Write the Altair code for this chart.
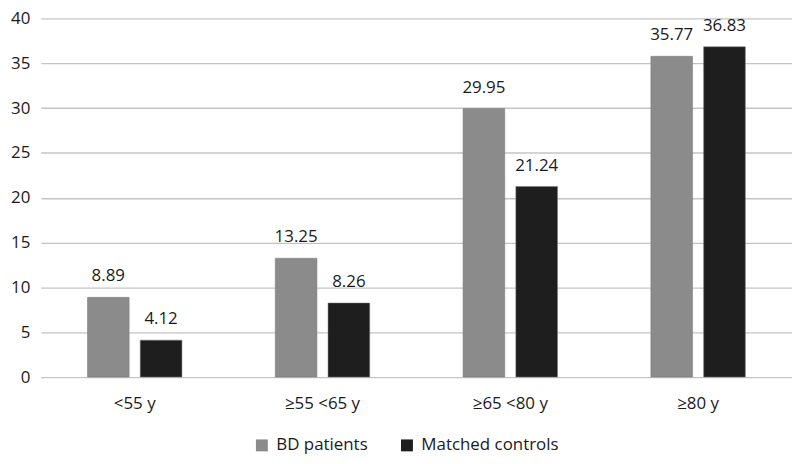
import altair as alt
import pandas as pd

categories = ["<55 y", "≥55 <65 y", "≥65 <80 y", "≥80 y"]
series = ["BD patients", "Matched controls"]
bd_values = [8.89, 13.25, 29.95, 35.77]
ctrl_values = [4.12, 8.26, 21.24, 36.83]
y_ticks = [0, 5, 10, 15, 20, 25, 30, 35, 40]
colors = ["#8b8b8b", "#1e1e1e"]

rows = []
for c, v in zip(categories, bd_values):
    rows.append({"cat": c, "series": series[0], "value": v, "label": f"{v:.2f}"})
for c, v in zip(categories, ctrl_values):
    rows.append({"cat": c, "series": series[1], "value": v, "label": f"{v:.2f}"})
df = pd.DataFrame(rows)

FONT = "Open Sans"
FS = 17

x_scale = alt.Scale(paddingInner=0.497, paddingOuter=0.2485)
y_scale = alt.Scale(domain=[0, 40], nice=False)

x_enc = alt.X(
    "cat:N",
    sort=categories,
    title=None,
    scale=x_scale,
    axis=alt.Axis(domain=False, ticks=False, labelPadding=19, labelFontSize=FS,
                  labelColor="#1a1a1a", labelFont=FONT, labelAngle=0),
)
xoff = alt.XOffset("series:N", sort=series, scale=alt.Scale(paddingInner=0.21, paddingOuter=0))
y_enc = alt.Y(
    "value:Q",
    title=None,
    scale=y_scale,
    axis=alt.Axis(values=y_ticks, domain=False, ticks=False, labelPadding=11,
                  labelFontSize=FS, labelColor="#1a1a1a", labelFont=FONT,
                  gridColor="#c4c4c4", gridWidth=1.4),
)

bars = alt.Chart(df).mark_bar(strokeWidth=1, stroke="#777777", strokeOpacity=0.5).encode(
    x=x_enc,
    xOffset=xoff,
    y=y_enc,
    color=alt.Color(
        "series:N",
        sort=series,
        scale=alt.Scale(domain=series, range=colors),
        legend=alt.Legend(
            title=None, orient="none", legendX=214, legendY=421, direction="horizontal",
            padding=0, symbolType="square", symbolSize=144, symbolStrokeWidth=0,
            labelFontSize=FS, labelFont=FONT, labelColor="#1a1a1a",
            labelOffset=6, columnPadding=30,
        ),
    ),
)

labels = alt.Chart(df).mark_text(
    baseline="bottom", dy=-12, fontSize=FS, font=FONT, color="#1a1a1a"
).encode(
    x=alt.X("cat:N", sort=categories, scale=x_scale),
    xOffset=xoff,
    y=alt.Y("value:Q", scale=y_scale),
    text="label:N",
)

chart = (
    alt.layer(bars, labels)
    .properties(
        width=756,
        height=361,
        autosize=alt.AutoSizeParams(type="none"),
        padding={"left": 33, "top": 9, "right": 0, "bottom": 78},
        background="white",
    )
    .configure_view(stroke=None)
)

chart.save("out.html", embed_options={"renderer": "svg", "actions": False})
